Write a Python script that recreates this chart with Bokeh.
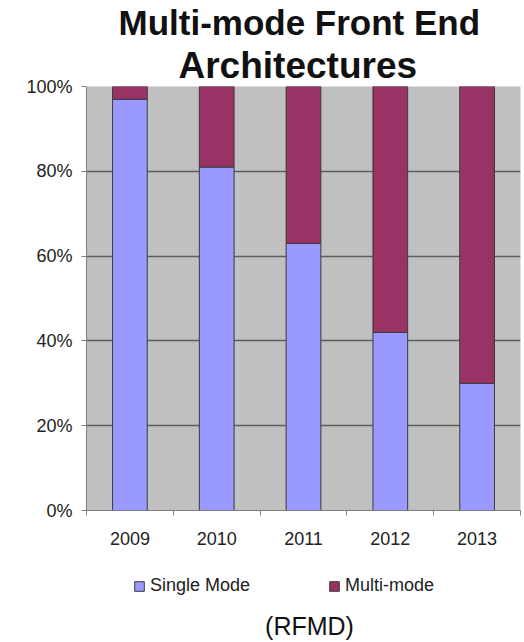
from bokeh.plotting import figure
from bokeh.layouts import column
from bokeh.models import (FixedTicker, NumeralTickFormatter, Title, Legend, LegendItem,
                          ColumnDataSource, Range1d, Label)
from bokeh.embed import file_html
from bokeh.resources import INLINE

years = ["2009", "2010", "2011", "2012", "2013"]
single_mode = [0.97, 0.81, 0.63, 0.42, 0.30]
multi_mode = [round(1 - v, 2) for v in single_mode]
series_names = ["Single Mode", "Multi-mode"]
colors = ["#9999ff", "#993366"]

xpos = [i + 0.5 for i in range(len(years))]
source = ColumnDataSource(dict(x=xpos, single=single_mode, multi=multi_mode))

FONT = "Liberation Sans"

p = figure(width=524, height=556, output_backend="svg", toolbar_location=None,
           x_range=Range1d(0, len(years)), y_range=Range1d(0, 1),
           min_border_left=86, min_border_right=4, min_border_top=85, min_border_bottom=46)
p.background_fill_color = "#c0c0c0"
p.border_fill_color = "white"
p.outline_line_color = None

rs = p.vbar_stack(["single", "multi"], x="x", width=0.4, source=source,
                  color=colors, line_color="#3a3a3a", line_width=1)

# axes
xa = p.xaxis[0]
xa.ticker = FixedTicker(ticks=xpos, minor_ticks=list(range(len(years) + 1)))
xa.major_label_overrides = {x: y for x, y in zip(xpos, years)}
xa.major_tick_out = 0
xa.major_tick_in = 0
xa.minor_tick_out = 5
xa.minor_tick_in = 0
xa.minor_tick_line_color = "#808080"
xa.axis_line_color = "#808080"
xa.major_label_text_font = FONT
xa.major_label_text_font_size = "18px"
xa.major_label_text_color = "#222222"
xa.major_label_standoff = 16

ya = p.yaxis[0]
ya.ticker = FixedTicker(ticks=[0, 0.2, 0.4, 0.6, 0.8, 1.0], minor_ticks=[])
ya.formatter = NumeralTickFormatter(format="0%")
ya.major_tick_out = 5
ya.major_tick_in = 0
ya.major_tick_line_color = "#808080"
ya.axis_line_color = "#808080"
ya.major_label_text_font = FONT
ya.major_label_text_font_size = "18px"
ya.major_label_text_color = "#222222"
ya.major_label_standoff = 9

p.xgrid.grid_line_color = None
p.ygrid.grid_line_color = "#5e5e5e"
p.ygrid.grid_line_width = 1.5

# title (first added sits nearest the frame)
p.add_layout(Title(text="Architectures", align="left", offset=92, standoff=2,
                   text_font=FONT, text_font_style="bold", text_font_size="37px",
                   text_color="#111111"), "above")
p.add_layout(Title(text="Multi-mode Front End", align="left", offset=32, standoff=0,
                   text_font=FONT, text_font_style="bold", text_font_size="35px",
                   text_color="#111111"), "above")

# legend + source note in a strip below (frame aligned with the chart's frame)
p2 = figure(width=524, height=86, output_backend="svg", toolbar_location=None,
            x_range=Range1d(86, 520), y_range=Range1d(5, 91),
            min_border_left=86, min_border_right=4, min_border_top=0, min_border_bottom=0)
p2.axis.visible = False
p2.grid.visible = False
p2.outline_line_color = None
p2.background_fill_color = "white"
p2.border_fill_color = "white"

# legend proxies: same stacked data, outside this strip's visible ranges
leg_renderers = p2.vbar_stack(["single", "multi"], x="x", width=0.4, source=source,
                              color=colors, line_color="#3a3a3a", line_width=1)
legend = Legend(items=[LegendItem(label=n, renderers=[r])
                       for n, r in zip(series_names, leg_renderers)],
                location=(47, 46), orientation="horizontal", glyph_width=12, glyph_height=12,
                label_standoff=5, spacing=78, padding=0, margin=0, label_height=18,
                label_text_font=FONT, label_text_font_size="18px", label_text_color="#222222",
                background_fill_alpha=0, border_line_color=None)
p2.add_layout(legend, "center")

p2.add_layout(Label(x=309, y=22, text="(RFMD)", text_align="center", text_baseline="middle",
                    text_font=FONT, text_font_size="25px", text_color="#111111"))

layout = column(p, p2, spacing=0)
open("out.html", "w").write(file_html(layout, INLINE))
